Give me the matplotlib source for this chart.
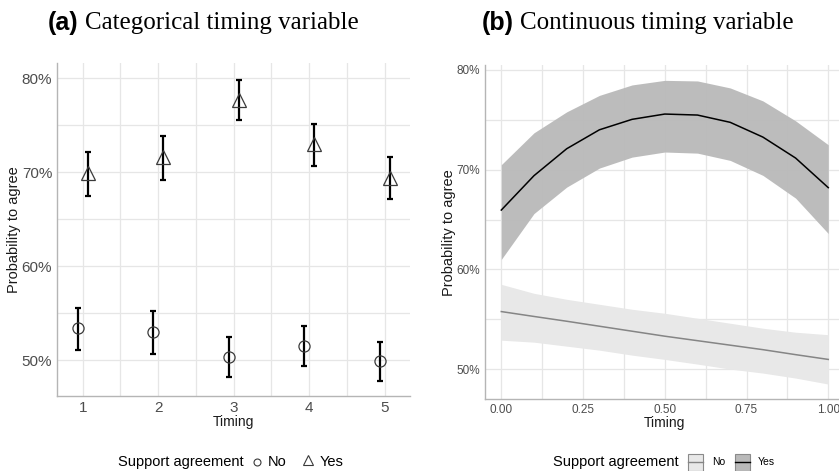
import numpy as np
import matplotlib
matplotlib.use("Agg")
import matplotlib.pyplot as plt
from matplotlib.lines import Line2D
from matplotlib.patches import Rectangle
from matplotlib.ticker import FuncFormatter, MultipleLocator

# ── Data (a): categorical timing ─────────────────────────────────────────────
timing_cat = [1, 2, 3, 4, 5]
no_est  = [53.4, 53.0, 50.35, 51.5, 49.9]
no_lo   = [51.1, 50.7, 48.2, 49.4, 47.8]
no_hi   = [55.6, 55.25, 52.45, 53.7, 51.95]
yes_est = [69.9, 71.6, 77.7, 72.95, 69.4]
yes_lo  = [67.45, 69.2, 75.5, 70.7, 67.2]
yes_hi  = [72.1, 73.8, 79.8, 75.1, 71.6]

# ── Data (b): continuous timing ──────────────────────────────────────────────
timing_cont = [0.0, 0.1, 0.2, 0.3, 0.4, 0.5, 0.6, 0.7, 0.8, 0.9, 1.0]
yes_fit   = [65.95, 69.4, 72.1, 74.0, 75.05, 75.58, 75.48, 74.75, 73.27, 71.17, 68.2]
yes_upper = [70.5, 73.7, 75.8, 77.45, 78.5, 78.96, 78.9, 78.2, 76.9, 74.9, 72.5]
yes_lower = [61.0, 65.6, 68.25, 70.16, 71.26, 71.77, 71.66, 70.93, 69.43, 67.15, 63.6]
no_fit    = [55.77, 55.28, 54.8, 54.3, 53.8, 53.3, 52.85, 52.4, 51.95, 51.45, 50.97]
no_upper  = [58.5, 57.6, 57.0, 56.5, 56.0, 55.6, 55.1, 54.6, 54.1, 53.7, 53.45]
no_lower  = [52.9, 52.7, 52.3, 51.9, 51.4, 50.97, 50.5, 50.0, 49.6, 49.1, 48.5]

SANS = "Liberation Sans"
SERIF = "Liberation Serif"
GRID = "#e6e6e6"
SPINE = "#b5b5b5"
TICKC = "#4d4d4d"
YES_FILL = "#b9b9b9"
NO_FILL = "#e8e8e8"
NO_LINE = "#858585"

pct = FuncFormatter(lambda v, p: f"{v:.0f}%")


def style_axes(ax, tick_size):
    for s in ["top", "right"]:
        ax.spines[s].set_visible(False)
    for s in ["left", "bottom"]:
        ax.spines[s].set_color(SPINE)
        ax.spines[s].set_linewidth(1.0)
    ax.grid(True, which="both", color=GRID, lw=0.9)
    ax.set_axisbelow(True)
    ax.tick_params(which="both", length=0, labelsize=tick_size, labelcolor=TICKC)
    ax.yaxis.set_major_formatter(pct)
    for lab in ax.get_xticklabels() + ax.get_yticklabels():
        lab.set_fontfamily(SANS)


fig = plt.figure(figsize=(8.39, 4.71), dpi=100)

# ── Panel (a) ────────────────────────────────────────────────────────────────
ax1 = fig.add_axes([0.068, 0.159, 0.421, 0.707])
x = np.array(timing_cat, dtype=float)
dodge = 0.065
ax1.errorbar(x - dodge, no_est,
             yerr=[np.subtract(no_est, no_lo), np.subtract(no_hi, no_est)],
             fmt="none", ecolor="black", elinewidth=1.6, capsize=2.2, capthick=1.6, zorder=2)
ax1.errorbar(x + dodge, yes_est,
             yerr=[np.subtract(yes_est, yes_lo), np.subtract(yes_hi, yes_est)],
             fmt="none", ecolor="black", elinewidth=1.6, capsize=2.2, capthick=1.6, zorder=2)
ax1.plot(x - dodge, no_est, ls="none", marker="o", ms=8, mfc="none", mec="#3a3a3a", mew=0.9, zorder=3)
ax1.plot(x + dodge, yes_est, ls="none", marker="^", ms=10, mfc="none", mec="#3a3a3a", mew=0.9, zorder=3)
ax1.set_xlim(0.66, 5.34)
ax1.set_ylim(46.2, 81.6)
ax1.set_xticks(timing_cat)
ax1.xaxis.set_minor_locator(MultipleLocator(0.5))
ax1.yaxis.set_major_locator(MultipleLocator(10))
ax1.yaxis.set_minor_locator(MultipleLocator(5))
style_axes(ax1, 11)
ax1.set_xlabel("Timing", fontsize=10, family=SANS, color="#1a1a1a", labelpad=0)
ax1.set_ylabel("Probability to agree", fontsize=10.5, family=SANS, color="#1a1a1a", labelpad=0.5)

# ── Panel (b) ────────────────────────────────────────────────────────────────
ax2 = fig.add_axes([0.578, 0.152, 0.4287, 0.710])
ax2.fill_between(timing_cont, no_lower, no_upper, color=NO_FILL, lw=0, zorder=1)
ax2.fill_between(timing_cont, yes_lower, yes_upper, color=YES_FILL, lw=0, alpha=0.95, zorder=1)
ax2.plot(timing_cont, no_fit, color=NO_LINE, lw=1.1, zorder=2)
ax2.plot(timing_cont, yes_fit, color="black", lw=1.1, zorder=2)
ax2.set_xlim(-0.05, 1.05)
ax2.set_ylim(46.96, 80.5)
ax2.set_xticks([0, 0.25, 0.5, 0.75, 1.0])
ax2.xaxis.set_major_formatter(FuncFormatter(lambda v, p: f"{v:.2f}"))
ax2.xaxis.set_minor_locator(MultipleLocator(0.125))
ax2.yaxis.set_major_locator(MultipleLocator(10))
ax2.yaxis.set_minor_locator(MultipleLocator(5))
style_axes(ax2, 8.5)
ax2.set_xlabel("Timing", fontsize=10, family=SANS, color="#1a1a1a", labelpad=0)
ax2.set_ylabel("Probability to agree", fontsize=10.5, family=SANS, color="#1a1a1a", labelpad=0.5)

# ── Titles: bold sans tag + serif text ───────────────────────────────────────
fig.canvas.draw()
renderer = fig.canvas.get_renderer()
for tag, txt, x0 in [("(a)", "Categorical timing variable", 48),
                     ("(b)", "Continuous timing variable", 482)]:
    t = fig.text(x0 / 839, 1 - 23 / 471, tag, fontsize=18, fontweight="bold",
                 family=SANS, va="center", ha="left")
    bb = t.get_window_extent(renderer)
    fig.text((bb.x1 + 6) / 839, 1 - 23 / 471, txt, fontsize=18, family=SERIF,
             va="center", ha="left")

# ── Legends (manual, bottom) ─────────────────────────────────────────────────
ly = 1 - 462 / 471
fig.text(118 / 839, ly, "Support agreement", fontsize=10.5, family=SANS, va="center")
fig.add_artist(Line2D([257 / 839], [ly], marker="o", ms=5, mfc="none", mec="#3a3a3a",
                      mew=0.8, transform=fig.transFigure))
fig.text(268 / 839, ly, "No", fontsize=10.5, family=SANS, va="center")
fig.add_artist(Line2D([308 / 839], [ly + 0.004], marker="^", ms=7, mfc="none", mec="#3a3a3a",
                      mew=0.8, transform=fig.transFigure))
fig.text(320 / 839, ly, "Yes", fontsize=10.5, family=SANS, va="center")

fig.text(553 / 839, ly, "Support agreement", fontsize=10.5, family=SANS, va="center")
bw, bh = 15 / 839, 17 / 471
for bx, fc, lc in [(688, NO_FILL, NO_LINE), (735, YES_FILL, "black")]:
    fig.add_artist(Rectangle((bx / 839, ly - bh / 2), bw, bh, facecolor=fc,
                             edgecolor="#8a8a8a", lw=0.8, transform=fig.transFigure))
    fig.add_artist(Line2D([bx / 839, bx / 839 + bw], [ly, ly], color=lc, lw=1.0,
                          transform=fig.transFigure))
fig.text(712 / 839, ly, "No", fontsize=7.5, family=SANS, va="center")
fig.text(758 / 839, ly, "Yes", fontsize=7.5, family=SANS, va="center")

fig.savefig("out.png", dpi=100)
